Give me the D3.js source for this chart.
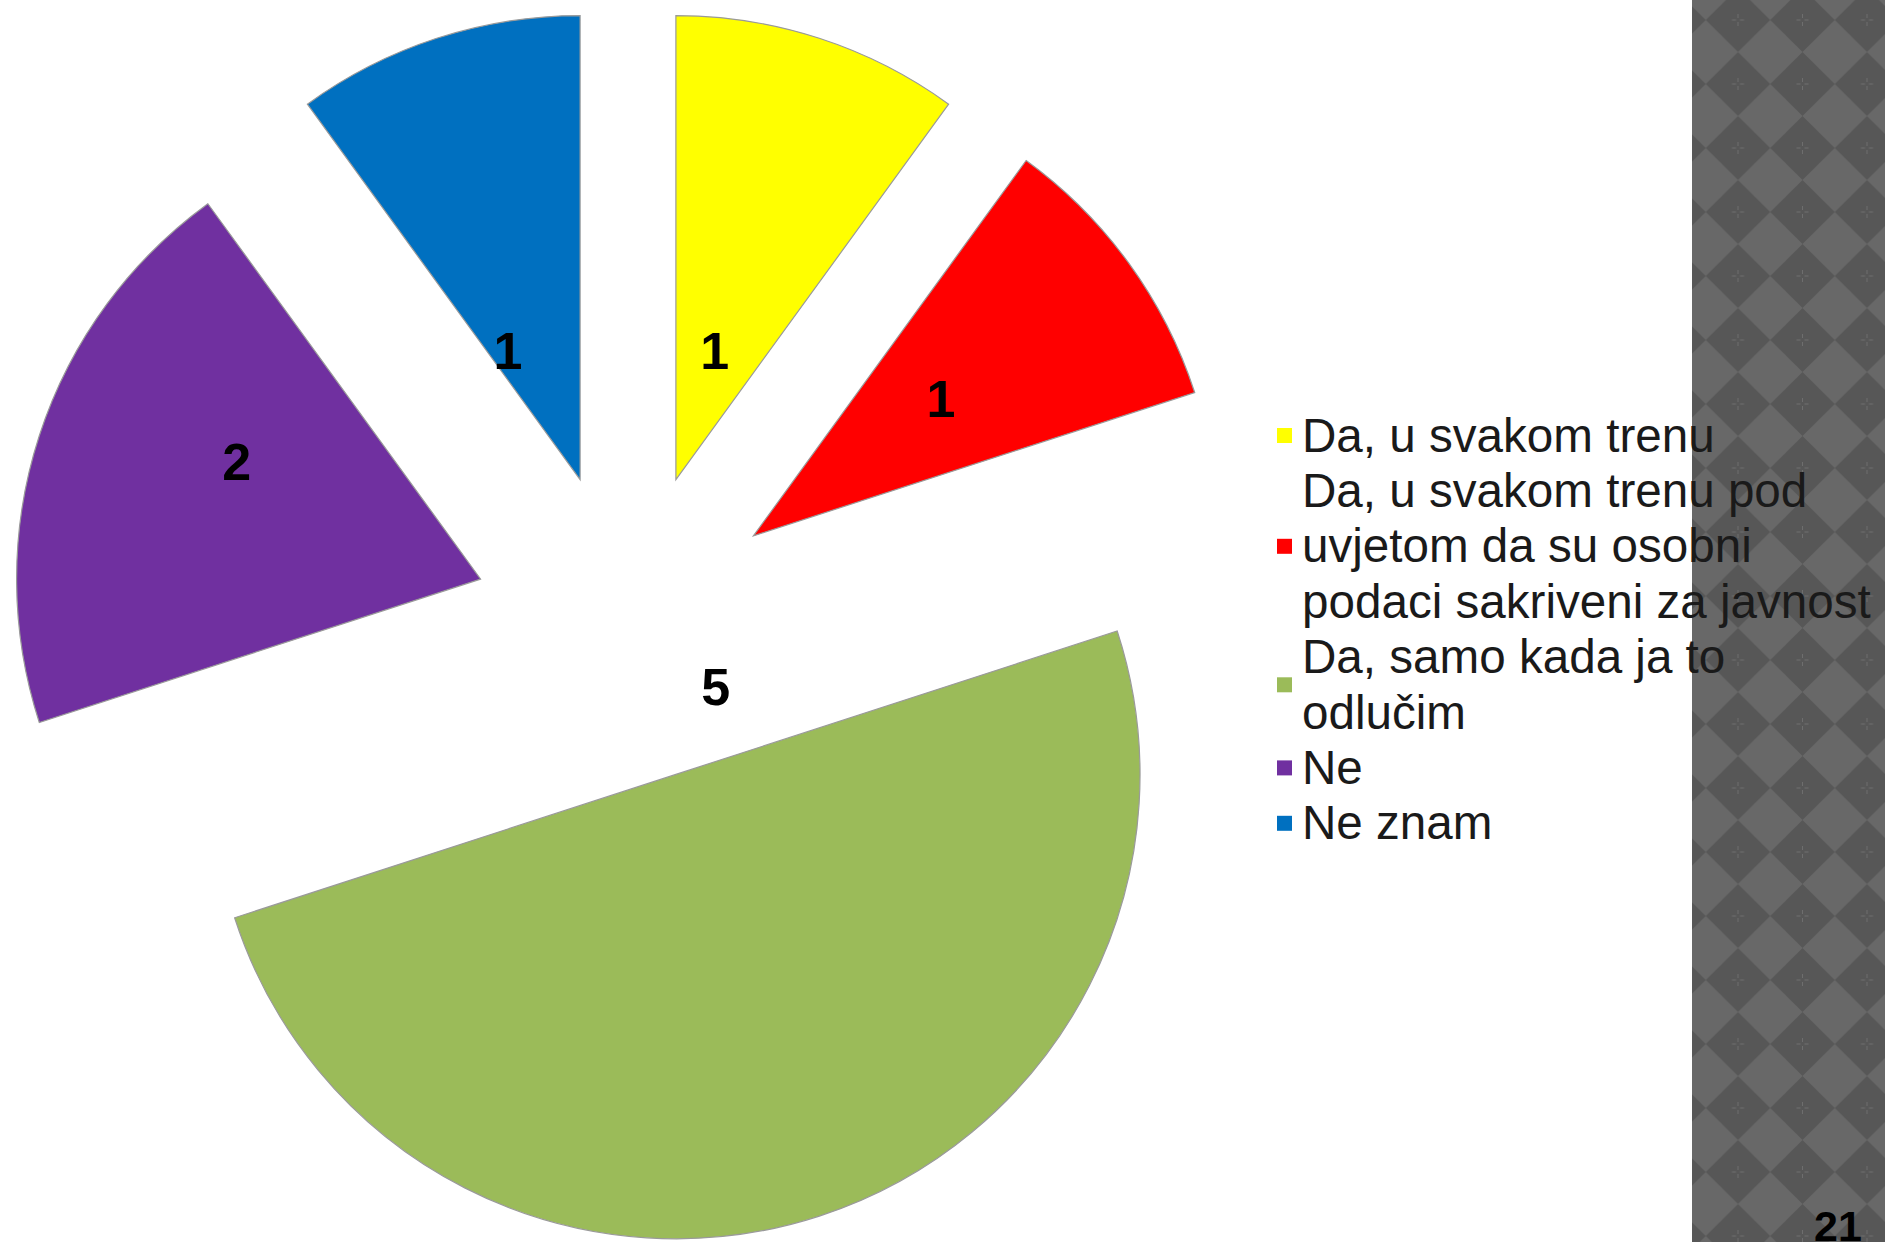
<!DOCTYPE html>
<html>
<head>
<meta charset="utf-8">
<script src="https://cdn.jsdelivr.net/npm/d3@7"></script>
<style>
  body { margin: 0; background: #fff; }
  svg { display: block; }
</style>
</head>
<body>
<svg width="1885" height="1242"></svg>
<script>
// data
var categories = ["Da, u svakom trenu",
    "Da, u svakom trenu pod uvjetom da su osobni podaci sakriveni za javnost",
    "Da, samo kada ja to odlučim",
    "Ne",
    "Ne znam"];
var legendLines = [
    ["Da, u svakom trenu"],
    ["Da, u svakom trenu pod", "uvjetom da su osobni", "podaci sakriveni za javnost"],
    ["Da, samo kada ja to", "odlučim"],
    ["Ne"],
    ["Ne znam"]];
var values = [1, 1, 5, 2, 1];
var colors = ["#ffff00", "#ff0000", "#9bbb59", "#7030a0", "#0070c0"];
var pageNumber = "21";

// label placement tweaks: [angle shift in degrees, radius fraction]
var labelPlace = [[-0.6, 0.625], [-0.2, 0.836], [-38, 0.228], [5, 0.916], [-5.4, 0.651]];

var svg = d3.select("svg"),
    width = +svg.attr("width"),
    height = +svg.attr("height");

// patterned strip on the right
var defs = svg.append("defs");
var pw = 64.5, ph = 64;
var pat = defs.append("pattern")
    .attr("id", "diamonds")
    .attr("patternUnits", "userSpaceOnUse")
    .attr("x", 1738 - pw / 2)
    .attr("y", 20 - ph / 2)
    .attr("width", pw)
    .attr("height", ph);
pat.append("rect").attr("width", pw).attr("height", ph).attr("fill", "#686868");
pat.append("path")
    .attr("d", `M${pw / 2},0 L${pw},${ph / 2} L${pw / 2},${ph} L0,${ph / 2} Z`)
    .attr("fill", "#575757");
var cx0 = pw / 2, cy0 = ph / 2;
[[-6, 0, -2, 0], [2, 0, 6, 0], [0, -6, 0, -2], [0, 2, 0, 6]].forEach(function (s) {
    pat.append("line")
        .attr("x1", cx0 + s[0]).attr("y1", cy0 + s[1])
        .attr("x2", cx0 + s[2]).attr("y2", cy0 + s[3])
        .attr("stroke", "#6e6e6e")
        .attr("stroke-width", 1);
});

svg.append("rect")
    .attr("x", 1692)
    .attr("y", 0)
    .attr("width", width - 1692)
    .attr("height", height)
    .attr("fill", "url(#diamonds)");

// pie
var cx = 628, cy = 627, R = 464, explode = 155;

var pie = d3.pie().sort(null).value(function (d) { return d; });
var arcs = pie(values);
var arc = d3.arc().innerRadius(0).outerRadius(R);

var g = svg.append("g").attr("transform", `translate(${cx},${cy})`);

g.selectAll("path.slice")
    .data(arcs)
    .enter().append("path")
    .attr("class", "slice")
    .attr("d", arc)
    .attr("transform", function (d) {
        var a = (d.startAngle + d.endAngle) / 2;
        return `translate(${explode * Math.sin(a)},${-explode * Math.cos(a)})`;
    })
    .attr("fill", function (d, i) { return colors[i]; })
    .attr("stroke", "#9a9a9a")
    .attr("stroke-width", 1.2);

g.selectAll("text.lbl")
    .data(arcs)
    .enter().append("text")
    .attr("class", "lbl")
    .attr("x", function (d, i) {
        var a = (d.startAngle + d.endAngle) / 2 + labelPlace[i][0] * Math.PI / 180;
        return R * labelPlace[i][1] * Math.sin(a);
    })
    .attr("y", function (d, i) {
        var a = (d.startAngle + d.endAngle) / 2 + labelPlace[i][0] * Math.PI / 180;
        return -R * labelPlace[i][1] * Math.cos(a);
    })
    .attr("dy", "0.36em")
    .attr("text-anchor", "middle")
    .attr("font-family", "Liberation Sans, Arial, sans-serif")
    .attr("font-weight", "bold")
    .attr("font-size", 52)
    .attr("fill", "#000")
    .text(function (d) { return d.data; });

// legend
var lineH = 55.4, legendX = 1302, legendY = 435;
var legend = svg.append("g");
var lineIdx = 0;
legendLines.forEach(function (lines, i) {
    var first = lineIdx;
    var row = legend.append("g");
    lines.forEach(function (t, j) {
        row.append("text")
            .attr("x", legendX)
            .attr("y", legendY + (first + j) * lineH)
            .attr("dy", "0.35em")
            .attr("font-family", "Liberation Sans, Arial, sans-serif")
            .attr("font-size", 47.6)
            .attr("fill", "#1a1a1a")
            .text(t);
    });
    var mid = legendY + (first + (lines.length - 1) / 2) * lineH;
    row.append("rect")
        .attr("x", 1277)
        .attr("y", mid - 7)
        .attr("width", 15)
        .attr("height", 15)
        .attr("fill", colors[i]);
    lineIdx += lines.length;
});

// page number
svg.append("text")
    .attr("x", 1838)
    .attr("y", 1241)
    .attr("text-anchor", "middle")
    .attr("font-family", "Liberation Sans, Arial, sans-serif")
    .attr("font-weight", "bold")
    .attr("font-size", 43)
    .attr("fill", "#000")
    .text(pageNumber);
</script>
</body>
</html>
